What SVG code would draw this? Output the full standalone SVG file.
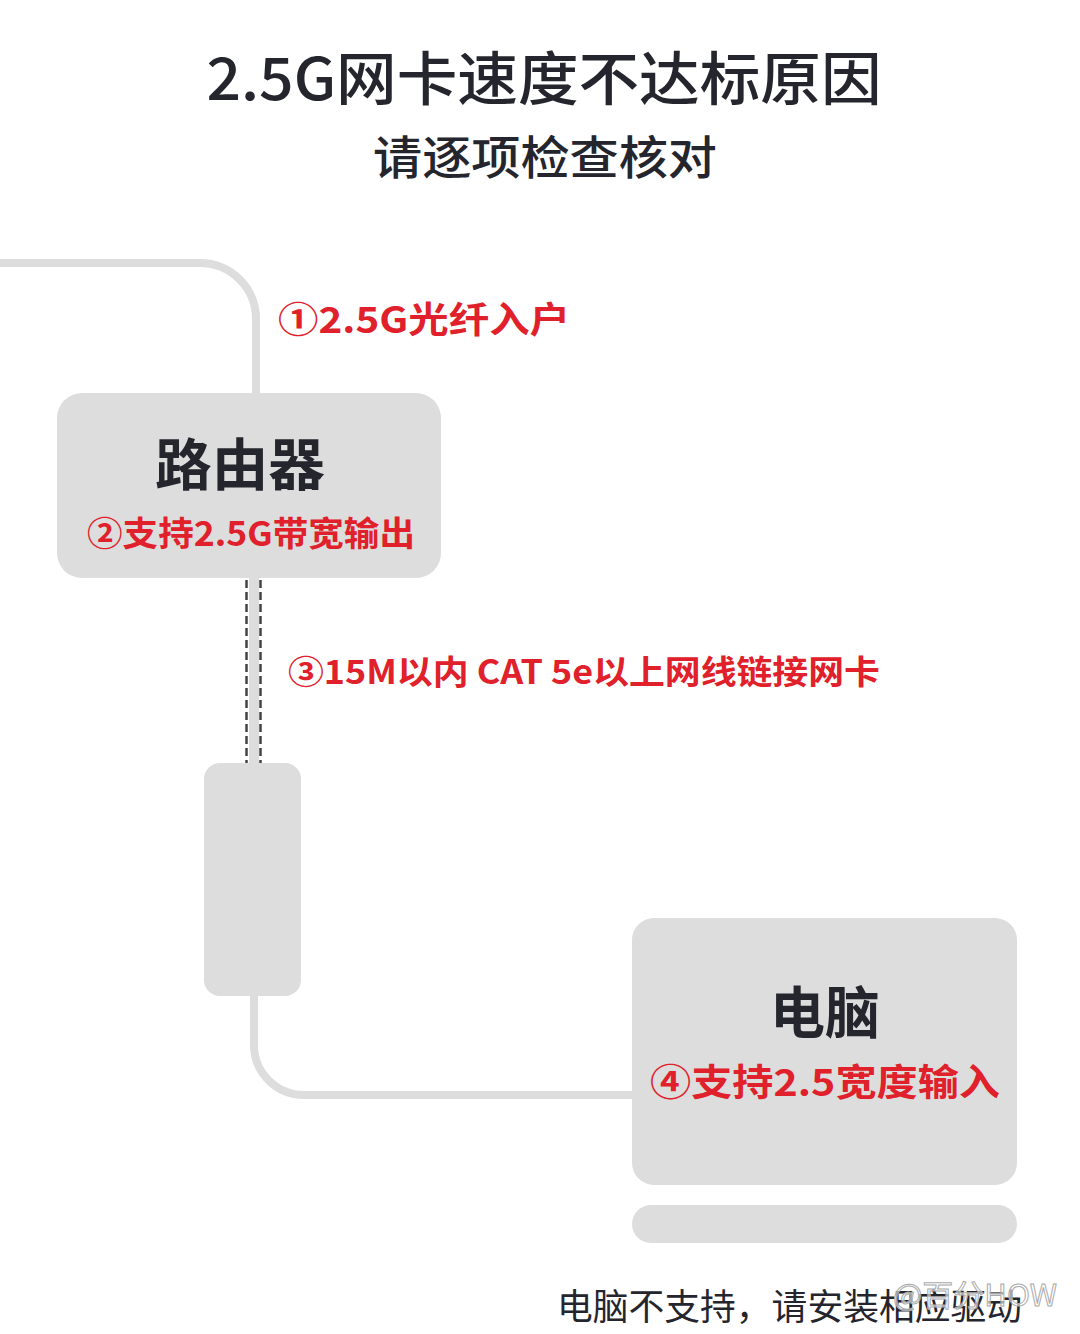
<svg xmlns="http://www.w3.org/2000/svg" width="1080" height="1334" viewBox="0 0 1080 1334">
<style>
.t{font-family:"Noto Sans CJK SC","Noto Sans",sans-serif;}
.dark{fill:#25252e;}
.red{fill:#e0202a;font-weight:700;}
.box{fill:#dddddd;}
.wire{fill:none;stroke:#dddddd;stroke-width:8;}
</style>
<rect width="1080" height="1334" fill="#ffffff"/>
<text class="t dark" x="544" y="100" font-size="58" font-weight="500" text-anchor="middle" textLength="675" lengthAdjust="spacingAndGlyphs">2.5G网卡速度不达标原因</text>
<text class="t dark" x="545" y="174" font-size="46" font-weight="500" text-anchor="middle" textLength="344" lengthAdjust="spacingAndGlyphs">请逐项检查核对</text>
<g id="connectors">
<path class="wire" d="M0 263 H200 A56 56 0 0 1 256 319 V395"/>
<rect x="249" y="578" width="10" height="186" fill="#dddddd"/>
<line x1="246.5" y1="580" x2="246.5" y2="763" stroke="#444" stroke-width="2.5" stroke-dasharray="8 4"/>
<line x1="260.5" y1="580" x2="260.5" y2="763" stroke="#444" stroke-width="2.5" stroke-dasharray="8 4"/>
<path class="wire" d="M254 994 V1045 A50 50 0 0 0 304 1095 H634"/>
</g>
<text class="t red" x="278" y="333" font-size="36" textLength="292" lengthAdjust="spacingAndGlyphs">①2.5G光纤入户</text>
<text class="t red" x="288" y="684" font-size="33" textLength="592" lengthAdjust="spacingAndGlyphs">③15M以内 CAT 5e以上网线链接网卡</text>
<g id="router">
<rect class="box" x="57" y="393" width="384" height="185" rx="25"/>
<text class="t dark" x="240" y="485" font-size="56" font-weight="700" text-anchor="middle" textLength="170" lengthAdjust="spacingAndGlyphs">路由器</text>
<text class="t red" x="87" y="546" font-size="34" textLength="328" lengthAdjust="spacingAndGlyphs">②支持2.5G带宽输出</text>
</g>
<g id="adapter">
<rect class="box" x="204" y="763" width="97" height="233" rx="16"/>
</g>
<g id="computer">
<rect class="box" x="632" y="918" width="385" height="267" rx="22"/>
<rect class="box" x="632" y="1205" width="385" height="38" rx="19"/>
<text class="t dark" x="825" y="1033" font-size="56" font-weight="700" text-anchor="middle" textLength="110" lengthAdjust="spacingAndGlyphs">电脑</text>
<text class="t red" x="650" y="1096" font-size="37" textLength="350" lengthAdjust="spacingAndGlyphs">④支持2.5宽度输入</text>
</g>
<text class="t dark" x="557" y="1320" font-size="36" textLength="465" lengthAdjust="spacingAndGlyphs">电脑不支持，请安装相应驱动</text>
<text class="t" x="893" y="1306" font-size="30" fill="#ffffff" fill-opacity="0.6" stroke="#aaaaaa" stroke-width="1" textLength="164" lengthAdjust="spacingAndGlyphs">@百分HOW</text>
</svg>
